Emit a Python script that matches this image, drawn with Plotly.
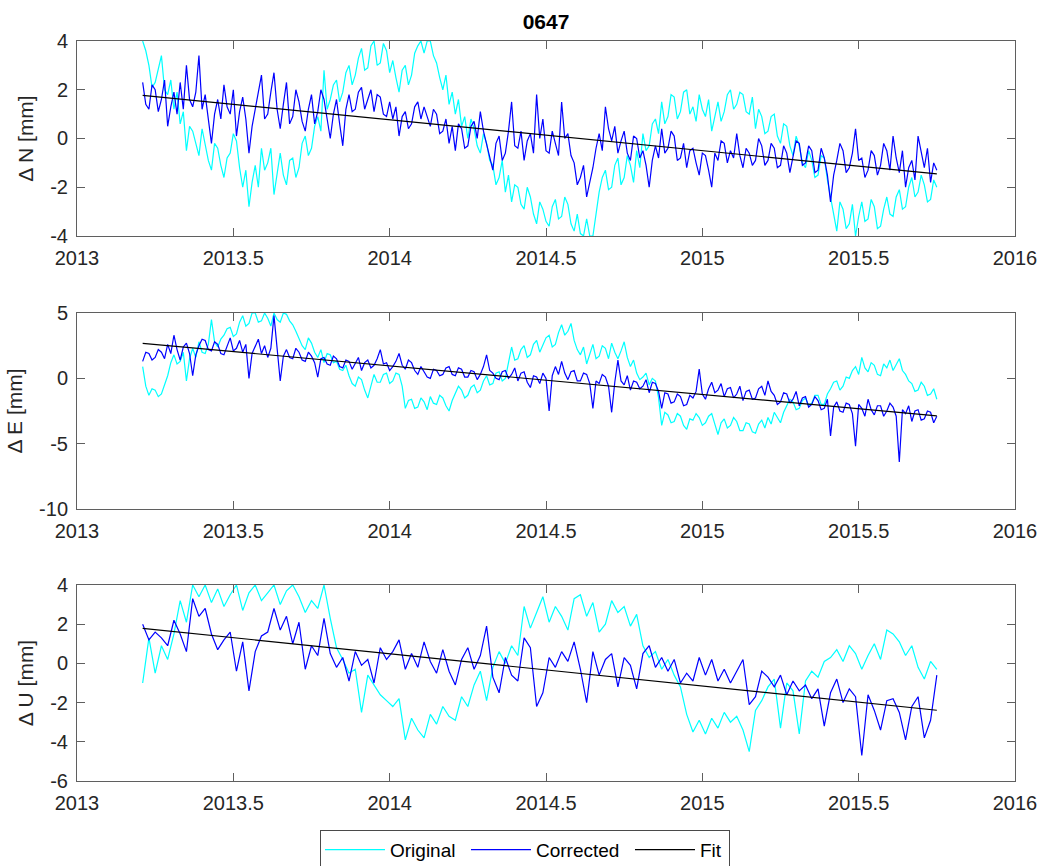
import numpy as np
import plotly.graph_objects as go

# time axes: N and E sampled every 0.01 yr, U every 0.02 yr (2013.21 .. 2015.75)
t_ne = np.round(2013.21 + 0.01 * np.arange(255), 2)
t_u = np.round(2013.21 + 0.02 * np.arange(128), 2)
fit_t = [2013.21, 2015.75]

# ---------------- North ----------------
n_orig = [4.0, 3.6, 3.0, 2.1, 2.3, 2.8, 3.4, 2.0, 1.8, 2.4, 1.2, 1.9, 0.6, 1.1, -0.5, 0.5, 0.3, -0.2, -0.7, 0.4,
          -0.2, -0.9, -1.3, -0.2, -0.4, -1.1, -1.6, -0.8, -0.6, 0.2, -0.1, -1.2, -2.0, -1.3, -2.8, -1.8, -1.1, -2.0, -0.4, -1.3,
          -1.0, -0.4, -2.3, -1.4, -0.6, -1.5, -1.9, -0.9, -0.8, -1.6, -1.2, -0.2, 0.1, -0.7, -0.4, 0.5, 0.9, 0.3, 2.8, 1.2,
          1.6, 2.2, 2.4, 1.5, 1.9, 2.7, 3.0, 2.2, 2.6, 3.3, 3.7, 2.8, 2.9, 3.8, 4.0, 3.0, 3.1, 3.9, 3.6, 2.7,
          3.2, 2.5, 1.9, 2.8, 3.0, 2.2, 2.6, 3.5, 3.8, 4.0, 3.5, 4.0, 4.0, 3.4, 3.1, 2.5, 2.0, 2.6, 1.4, 1.9,
          1.0, 1.6, 0.5, 0.9, 0.0, 0.8, 0.4, -0.3, -0.6, 0.2, -0.2, -0.9, -1.1, -1.9, -1.6, -0.9, -2.2, -1.5, -2.6, -1.9,
          -2.0, -2.7, -2.9, -2.0, -2.4, -3.1, -3.5, -2.6,
          -2.9, -3.4, -3.6, -2.8, -2.5, -3.3, -3.2, -2.4, -2.7, -3.5, -3.8, -3.1,
          -3.9, -4.0, -3.3, -4.0, -4.0, -3.1, -2.2, -1.6, -1.3, -2.1, -2.0, -1.1, -0.8, -1.9, -1.6, -0.7, -1.1, -1.8, -0.5, -1.2,
          0.2, -0.5, -0.3, 0.6, 0.8, 0.2, 1.5, 0.6, 0.9, 1.8, 1.7, 0.8, 1.1, 1.9, 2.0, 1.0, 1.3, 0.7, 1.8, 1.2,
          0.9, 1.6, 0.3, 0.9, 1.5, 0.7, 1.1, 1.8, 2.0, 1.2, 1.4, 1.9, 1.8, 1.1, 1.0, 1.7, 0.4, 1.2, 0.9, 0.2,
          0.3, 0.9, 1.0, 0.1, -0.2, 0.6, 0.5, -0.3, -0.7, 0.1, -0.3, -1.0, -1.2, -0.5, -0.9, -1.6, -1.5, -0.7, -0.8, -1.7,
          -2.4, -3.1, -3.8, -2.6, -2.9, -3.7, -3.5, -2.7, -4.0, -3.2, -2.6, -3.4, -3.3, -2.5, -2.8, -3.7, -3.6, -2.9, -2.4, -3.1,
          -3.2, -2.4, -2.1, -2.9, -2.8, -2.0, -1.6, -2.4, -2.2, -1.5, -1.9, -2.6, -2.5, -1.7, -2.0]
n_corr = [2.3, 1.4, 1.2, 2.2, 2.0, 1.1, 1.6, 2.4, 0.5, 1.3, 1.9, 1.0, 2.3, 1.2, 3.0, 1.6, 1.3, 1.9, 3.4, 1.2,
          1.8, 0.9, -0.2, 1.0, 1.6, 0.8, 2.2, 1.3, 1.0, 2.0, 0.1, 1.1, 1.7, 0.8, -0.6, 0.5, 1.2, 1.9, 2.6, 0.8,
          1.0, 1.9, 2.7, 1.2, 0.4, 1.4, 2.3, 0.6, 0.9, 2.0, 1.5, 0.7, 0.3, 1.2, 1.8, 0.6, 1.1, 2.0, 1.6, 0.8,
          0.0, 1.0, 1.6, 0.6, -0.3, 1.2, 1.8, 1.1, 1.2, 1.9, 2.1, 1.2, 1.6, 2.0, 1.1, 1.8, 1.7, 1.0, 0.9, 1.5,
          0.8, 1.3, 0.1, 0.9, 1.1, 0.4, 0.6, 1.3, 1.5, 0.8, 1.3, 0.9, 0.5, 1.2, 1.0, 0.2, 0.3, 0.8, -0.2, 0.5,
          -0.5, 0.6, 0.4, -0.4, -0.3, 0.5, 0.7, 0.0, 1.1, 0.3, -0.2, -0.8, -1.3, -0.2, 0.1, -0.9, -0.6, 0.3, 1.5, -0.3,
          -0.4, 0.3, -0.9, -0.1, 0.2, -0.6, 1.8, 0.0,
          0.8, -0.5, -0.6, 0.3, -0.2, -0.7, 1.5, 0.0, 0.2, -0.7, -1.0, -1.9,
          -1.6, -1.1, -2.4, -1.8, -1.2, -0.4, 0.2, -0.5, 1.3, 0.4, -0.1, 0.5, -0.6, -0.1, 0.3, -0.6, -0.9, 0.1, 0.0, -0.8,
          -0.5, -1.1, -2.0, -0.9, -0.3, -0.8, 0.4, -0.6, -0.4, 0.3, 0.1, -0.9, -0.8, -0.2, -1.2, -0.5, -0.4, -1.0, -1.5, -0.6,
          -0.7, -1.3, -2.0, -0.6, -0.9, -0.1, -0.2, -1.0, -0.5, -0.8, 0.2, -0.7, -1.2, -0.4, -0.6, -1.1, -0.9, 0.0, -0.3, -1.1,
          -0.9, -0.2, -0.4, -1.2, -1.1, -0.3, -0.6, -1.4, -0.8, -0.1, -0.2, -1.1, -1.0, -0.3, -0.5, -1.4, -1.3, -0.4, -0.8, -1.5,
          -2.6, -1.5, -0.9, -0.2, -0.5, -1.4, -1.2, -0.6, 0.4, -0.9, -0.8, -1.6, -1.3, -0.5, -0.7, -1.5, -1.1, -0.2, -0.5, -1.3,
          0.1, -0.8, -1.4, -0.5, -2.0, -1.2, -0.9, -1.7, 0.1, -0.6, -1.2, -0.4, -1.8, -1.0, -1.3]
n_fit = [1.77, -1.45]

# ---------------- East ----------------
e_orig = [0.9, -0.6, -1.3, -0.8, -0.9, -1.4, -1.2, -0.5, 0.2, 1.2, 1.8, 1.1, 1.3, 2.0, -0.2, 1.5, 2.3, 1.6, 2.8, 2.0,
          1.9, 2.6, 4.5, 2.8, 2.4, 3.0, 3.3, 3.8, 3.9, 3.2, 3.4, 4.3, 4.8, 4.0, 4.2, 5.0, 5.0, 4.3, 4.4, 5.0,
          4.6, 4.0, 5.0, 4.5, 4.3, 5.0, 4.9, 4.4, 4.1, 3.6, 3.0, 2.5, 2.2, 3.1, 2.7, 2.0, 1.6, 2.2, 1.2, 1.9,
          1.8, 1.2, 1.3, 0.7, 0.6, 1.0, 0.2, -0.4, -0.6, 0.1, -0.1, -0.9, -1.5, -0.5, 0.3, -0.3, -0.3, 0.3, 0.4, -0.4,
          -0.2, 0.4, 0.3, -0.6, -2.3, -1.7, -1.6, -2.3, -2.2, -1.5, -1.8, -2.4, -1.4, -1.9, -2.0, -1.3, -1.5, -2.1, -2.5, -1.7,
          -1.2, -0.6, -0.9, -1.5, -1.3, -0.7, -0.5, -1.1, -0.9, -0.2, 0.2, -0.5, -0.4, 0.4, 0.5, -0.2, 0.0, 1.2, 2.4, 1.4,
          1.5, 2.2, 2.5, 1.6, 1.8, 2.6, 2.9, 2.0,
          2.5, 3.1, 3.3, 2.4, 2.6, 3.5, 4.1, 3.3, 3.6, 4.2, 2.9, 2.2,
          1.8, 2.4, 1.1, 1.9, 2.6, 1.5, 1.7, 2.5, 2.3, 1.5, 2.7, 2.0, 1.5, 2.1, 2.8, 1.6, 0.9, 1.4, 0.4, -0.1,
          0.1, 0.4, -0.5, 0.0, -0.2, -1.5, -3.6, -2.6, -2.8, -3.4, -3.3, -2.7, -2.9, -3.6, -3.9, -3.1, -3.2, -2.7, -3.0, -3.6,
          -3.4, -2.9, -2.7, -3.5, -4.3, -3.4, -3.1, -3.8, -3.6, -3.0, -3.3, -4.0, -4.0, -3.4, -3.5, -4.1, -4.2, -3.5, -3.2, -3.8,
          -3.0, -3.5, -2.6, -3.0, -3.4, -2.6, -2.1, -1.6, -1.8, -2.4, -2.3, -1.7, -1.5, -2.1, -1.9, -1.3, -1.3, -2.0, -2.0, -1.2,
          -0.8, -0.3, -0.2, -0.9, -0.6, 0.1, 0.0, 0.6, 0.9, 0.3, 1.6, 0.8, 0.5, 1.2, 1.0, 0.3, 0.2, 1.1, 0.8, 1.4,
          0.6, 1.1, 1.5, 0.6, 0.3, -0.2, -0.4, -1.0, -0.9, -0.3, -0.6, -1.3, -1.2, -0.8, -1.6]
e_corr = [1.3, 2.0, 1.9, 1.4, 1.6, 2.2, 2.0, 1.5, 2.6, 1.9, 3.3, 2.2, 1.4, 2.4, 2.7, 1.9, 0.2, 1.8, 2.5, 3.0,
          2.9, 2.2, 2.1, 2.8, 2.6, 1.9, 1.8, 2.5, 3.1, 2.1, 2.3, 2.9, 2.0, 2.6, 0.0, 1.9, 2.4, 3.0, 1.9, 2.5,
          1.6, 2.3, 4.8, 2.0, -0.2, 1.7, 2.2, 1.6, 1.5, 2.3, 2.0, 1.4, 1.3, 2.0, 1.7, 1.2, 0.1, 1.5, 1.6, 1.1,
          1.0, 1.7, 1.5, 0.9, 0.8, 1.4, 1.3, 0.7, 1.1, 1.6, 0.6, 1.2, 1.4, 0.8, 1.0, 1.5, 2.2, 1.1, 1.2, 0.6,
          0.9, 1.3, 1.9, 1.0, 0.7, 1.4, 1.2, 0.6, 0.3, 0.9, 0.5, 0.1, 0.0, 0.7, 0.6, 0.2, 0.3, 0.8, 0.9, 0.3,
          0.2, 0.8, 0.7, 0.1, 0.1, 0.6, 0.5, -0.1, 0.3, 0.9, 1.8, 0.6, 0.4, 0.0, -0.1, 0.5, 0.6, 0.0, 0.3, 0.8,
          -0.2, 0.4, 0.5, -0.3, -0.7, 0.2, 0.1, -0.4,
          0.4, 0.0, -2.5, 0.2, 0.9, 0.3, 1.3, 0.4, -0.1, 0.5, 0.6, -0.2,
          -0.2, 0.4, 0.3, -0.4, -2.3, -0.2, -0.4, 0.3, 0.1, -0.6, -2.6, -0.3, 1.4, -0.2, -0.5, 0.2, -0.9, -0.2, -0.3, -0.8,
          -0.6, -0.1, -1.1, -0.3, -0.4, -1.0, -2.3, -1.1, -1.2, -1.9, -1.8, -1.2, -1.4, -2.1, -2.0, -1.3, -1.5, -1.0, 0.7, -1.2,
          -1.6, -0.8, -0.3, -1.1, -0.9, -0.4, -1.4, -0.8, -0.7, -1.5, -1.2, -0.6, -1.7, -1.0, -0.9, -1.6, -1.5, -0.8, -0.6, -1.3,
          -0.2, -1.0, -1.3, -2.0, -1.8, -1.1, -1.2, -1.9, -1.6, -1.0, -2.1, -1.5, -1.4, -2.2, -2.0, -1.4, -1.7, -2.4, -2.3, -1.6,
          -4.4, -2.2, -1.8, -2.5, -2.6, -1.9, -2.0, -2.7, -5.2, -2.0, -2.3, -2.9, -1.6, -2.4, -2.8, -2.1, -2.1, -2.9, -2.5, -1.9,
          -2.2, -2.9, -6.4, -2.4, -2.7, -2.1, -3.3, -2.5, -2.4, -3.2, -3.1, -2.5, -2.6, -3.4, -2.9]
e_fit = [2.68, -2.88]

# ---------------- Up ----------------
u_orig = [-1.0, 1.3, -0.5, 0.9, 0.2, 1.5, 3.2, 2.1, 4.0, 3.4,
          4.0, 3.1, 3.8, 2.9, 3.5, 4.0, 2.7, 3.6, 4.0, 3.2,
          3.6, 4.0, 3.0, 3.7, 4.0, 3.4, 2.6, 3.2, 2.8, 4.0,
          2.3, 0.8, 0.2, -0.5, -0.3, -2.5, -0.6, -1.1, -1.6, -1.9,
          -2.2, -1.8, -3.9, -2.8, -3.4, -3.8, -2.6, -3.1, -2.2, -2.7,
          -2.9, -1.7, -2.2, -1.1, -0.4, -1.9, -0.2, 0.6, 0.0, 0.9,
          0.4, 2.9, 1.8, 2.6,
          3.4, 2.1, 2.9, 2.4, 1.7, 3.3,
          3.5, 2.4, 3.1, 1.6, 2.0, 3.2, 2.6, 2.9, 1.9, 2.5,
          0.9, 0.3, 0.6, -0.3, 0.2, -0.6, -1.2, -2.6, -3.5, -2.9,
          -3.6, -2.8, -3.3, -2.5, -3.0, -2.7, -3.4, -4.5, -2.4, -1.9,
          -1.2, -0.8, -3.3, -1.0, -1.4, -3.6, -0.9, -0.4, -0.7, 0.1,
          0.3, 0.7, 0.1, 0.9, 0.5, -0.3, 0.4, 1.0, 0.2, 1.7,
          1.5, 1.1, 0.4, 0.9, -0.2, -0.8, 0.1, -0.3]
u_corr = [2.0, 1.2, 1.6, 1.3, 0.9, 2.2, 1.5, 0.6, 3.3, 2.4,
          2.8, 1.5, 0.7, 1.2, 1.6, -0.4, 1.1, -1.4, 0.6, 1.4,
          1.6, 2.8, 1.7, 2.4, 1.0, 2.1, -0.3, 0.9, 0.4, 2.3,
          0.5, -0.2, 0.3, -0.9, 0.6, -0.1, 0.2, -1.0, 0.8, 0.2,
          0.6, 1.2, -0.3, 0.5, -0.2, 1.1, 0.1, -0.5, 0.7, -0.4,
          -1.1, 0.2, 0.8, -0.3, 0.4, 1.9, -0.7, -1.5, 0.3, -0.6,
          -0.9, 1.3, 0.8, -2.2,
          -1.5, 0.3, -0.2, 0.6, 0.1, 1.1,
          -0.3, -2.0, 0.6, -0.6, 0.2, 0.5, -1.2, 0.3, -0.1, -1.3,
          0.5, 0.9, -0.2, 0.3, -0.4, 0.2, -1.0, -0.5, -0.9, 0.3,
          -0.6, 0.2, -0.9, -0.3, -1.0, -0.4, 0.2, -2.1, -1.7, -0.4,
          -0.7, -1.2, -0.6, -1.6, -0.9, -1.4, -1.1, -1.8, -1.3, -3.2,
          -1.5, -0.8, -2.0, -1.3, -1.7, -4.7, -1.6, -2.4, -3.4, -1.9,
          -1.8, -2.5, -3.9, -2.2, -1.7, -3.8, -2.9, -0.6]
u_fit = [1.79, -2.39]

for arr in (n_orig, n_corr, e_orig, e_corr):
    assert len(arr) == len(t_ne), len(arr)
for arr in (u_orig, u_corr):
    assert len(arr) == len(t_u), len(arr)

x_ticks = [2013, 2013.5, 2014, 2014.5, 2015, 2015.5, 2016]
x_ticktext = ["2013", "2013.5", "2014", "2014.5", "2015", "2015.5", "2016"]

panels = [
    ("Δ N [mm]", t_ne, n_orig, n_corr, n_fit, [-4, 4], [-4, -2, 0, 2, 4], [0.7365, 1.0]),
    ("Δ E [mm]", t_ne, e_orig, e_corr, e_fit, [-10, 5], [-10, -5, 0, 5], [0.3676, 0.6324]),
    ("Δ U [mm]", t_u, u_orig, u_corr, u_fit, [-6, 4], [-6, -4, -2, 0, 2, 4], [0.0, 0.2649]),
]

FONT = "Liberation Sans, Arial, sans-serif"
AXCOL = "#5f5f5f"
TXTCOL = "#262626"

fig = go.Figure()
layout = dict(
    width=1052, height=866,
    margin=dict(l=77, r=37, t=41, b=85, autoexpand=False),
    paper_bgcolor="white", plot_bgcolor="white",
    font=dict(family=FONT, color=TXTCOL),
    title=dict(text="<b>0647</b>", x=0.5, xref="paper", xanchor="center",
               y=1 - 21.5 / 866, yref="container", yanchor="middle",
               font=dict(size=21, color="black", family=FONT)),
    showlegend=True,
    legend=dict(orientation="h", x=0.4776, xanchor="center", xref="paper",
                y=-0.093, yanchor="middle", yref="paper",
                bordercolor="#4a4a4a", borderwidth=1, bgcolor="white",
                font=dict(size=19, color="black", family=FONT),
                itemwidth=60, tracegroupgap=0),
)

legend_w = {"Original": 71, "Corrected": 89, "Fit": 24}
for k, (ylab, tt, orig, corr, fit, yr, yt, dom) in enumerate(panels):
    idx = "" if k == 0 else str(k + 1)
    xa, ya = "x" + idx, "y" + idx
    first = (k == 0)
    fig.add_trace(go.Scatter(x=tt, y=orig, mode="lines", name="Original",
                             line=dict(color="#00FFFF", width=1.2),
                             xaxis=xa, yaxis=ya, showlegend=first, legendgroup="o",
                             legendwidth=legend_w["Original"]))
    fig.add_trace(go.Scatter(x=tt, y=corr, mode="lines", name="Corrected",
                             line=dict(color="#0000FF", width=1.2),
                             xaxis=xa, yaxis=ya, showlegend=first, legendgroup="c",
                             legendwidth=legend_w["Corrected"]))
    fig.add_trace(go.Scatter(x=fit_t, y=fit, mode="lines", name="Fit",
                             line=dict(color="black", width=1.2),
                             xaxis=xa, yaxis=ya, showlegend=first, legendgroup="f",
                             legendwidth=legend_w["Fit"]))
    layout["xaxis" + idx] = dict(
        domain=[0, 1], anchor=ya, range=[2013, 2016],
        tickmode="array", tickvals=x_ticks, ticktext=x_ticktext,
        ticks="inside", ticklen=8, tickcolor=AXCOL, tickwidth=1,
        showline=True, linecolor=AXCOL, linewidth=1, mirror="ticks",
        showgrid=False, zeroline=False,
        tickfont=dict(size=20, color=TXTCOL, family=FONT), ticklabelstandoff=4,
    )
    layout["yaxis" + idx] = dict(
        domain=dom, anchor=xa, range=yr,
        tickmode="array", tickvals=yt, ticktext=[str(v) for v in yt],
        ticks="inside", ticklen=8, tickcolor=AXCOL, tickwidth=1,
        showline=True, linecolor=AXCOL, linewidth=1, mirror="ticks",
        showgrid=False, zeroline=False,
        tickfont=dict(size=20, color=TXTCOL, family=FONT), ticklabelstandoff=4,
        title=dict(text=ylab, font=dict(size=21, color=TXTCOL, family=FONT), standoff=10),
    )

fig.update_layout(**layout)
fig.write_html("out.html")
